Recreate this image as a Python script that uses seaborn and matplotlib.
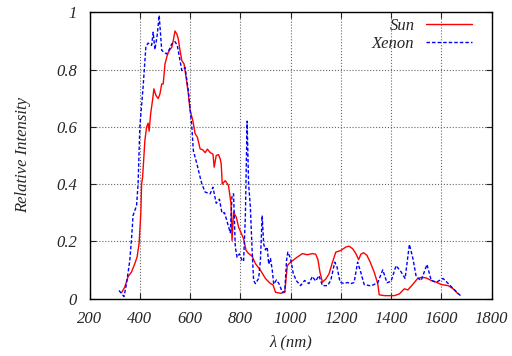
import numpy as np
import pandas as pd
import seaborn as sns
import matplotlib
matplotlib.use("Agg")
import matplotlib.pyplot as plt
from matplotlib.ticker import FuncFormatter

# spectre solaire
sun_nm = [327, 340, 353, 367, 380, 389, 397, 404, 407, 411, 420, 427, 433, 437, 443, 451, 456, 464,
          473, 480, 487, 493, 500, 509, 517, 527, 533, 540, 547, 553, 560, 567, 576, 584, 593, 600,
          611, 620, 629, 640, 650, 660, 669, 680, 691, 696, 704, 713, 720, 724, 728, 740, 753, 763,
          767, 773, 784, 793, 813, 823, 833, 847, 860, 880, 900, 920, 930, 940, 960, 977, 987, 1000,
          1027, 1047, 1067, 1087, 1100, 1109, 1117, 1127, 1140, 1153, 1167, 1180, 1200, 1220, 1233,
          1247, 1260, 1271, 1280, 1291, 1304, 1317, 1333, 1347, 1353, 1373, 1413, 1433, 1453, 1467,
          1487, 1504, 1520, 1540, 1560, 1580, 1600, 1627, 1647, 1667]
sun_int = [0.02, 0.04, 0.076, 0.093, 0.122, 0.145, 0.192, 0.30, 0.40, 0.424, 0.552, 0.60, 0.613,
           0.585, 0.646, 0.696, 0.733, 0.71, 0.699, 0.715, 0.75, 0.75, 0.82, 0.85, 0.867, 0.878,
           0.902, 0.935, 0.925, 0.908, 0.867, 0.832, 0.82, 0.774, 0.716, 0.658, 0.622, 0.576, 0.564,
           0.523, 0.52, 0.51, 0.522, 0.51, 0.505, 0.459, 0.50, 0.503, 0.488, 0.47, 0.40, 0.412,
           0.395, 0.331, 0.203, 0.302, 0.284, 0.25, 0.209, 0.168, 0.157, 0.148, 0.122, 0.099, 0.07,
           0.052, 0.048, 0.022, 0.018, 0.022, 0.115, 0.127, 0.145, 0.157, 0.153, 0.157, 0.155,
           0.136, 0.092, 0.057, 0.068, 0.086, 0.127, 0.162, 0.168, 0.18, 0.183, 0.174, 0.157, 0.136,
           0.155, 0.16, 0.151, 0.127, 0.092, 0.052, 0.013, 0.01, 0.01, 0.016, 0.034, 0.03, 0.05,
           0.068, 0.074, 0.072, 0.063, 0.057, 0.049, 0.045, 0.034, 0.016]

# lampe xenon
xe_nm = [317, 337, 347, 360, 367, 373, 387, 393, 400, 413, 424, 433, 447, 453, 460, 469, 477, 487,
         497, 507, 517, 527, 540, 549, 560, 567, 580, 593, 607, 613, 627, 640, 647, 660, 680, 691,
         704, 717, 727, 737, 747, 760, 767, 773, 780, 787, 796, 807, 813, 820, 827, 833, 840, 847,
         853, 860, 873, 880, 887, 893, 900, 907, 913, 920, 927, 933, 944, 955, 967, 977, 984, 989,
         1000, 1011, 1025, 1040, 1056, 1073, 1087, 1100, 1113, 1127, 1147, 1160, 1176, 1185, 1197,
         1213, 1227, 1240, 1253, 1267, 1280, 1293, 1320, 1347, 1367, 1384, 1400, 1420, 1440, 1456,
         1473, 1487, 1500, 1520, 1543, 1560, 1580, 1607, 1627, 1647, 1680]
xe_int = [0.028, 0.007, 0.052, 0.133, 0.21, 0.29, 0.325, 0.40, 0.60, 0.74, 0.88, 0.893, 0.885,
          0.931, 0.87, 0.92, 0.99, 0.868, 0.86, 0.855, 0.87, 0.89, 0.898, 0.885, 0.832, 0.797,
          0.808, 0.727, 0.60, 0.517, 0.471, 0.424, 0.40, 0.372, 0.366, 0.389, 0.333, 0.347, 0.298,
          0.30, 0.27, 0.23, 0.36, 0.366, 0.18, 0.144, 0.156, 0.133, 0.13, 0.284, 0.62, 0.40, 0.32,
          0.168, 0.063, 0.052, 0.07, 0.133, 0.29, 0.19, 0.17, 0.18, 0.12, 0.14, 0.10, 0.05, 0.065,
          0.05, 0.022, 0.025, 0.133, 0.162, 0.14, 0.086, 0.06, 0.045, 0.063, 0.052, 0.077, 0.061,
          0.08, 0.045, 0.045, 0.063, 0.127, 0.11, 0.057, 0.052, 0.056, 0.052, 0.056, 0.127, 0.09,
          0.049, 0.044, 0.055, 0.10, 0.055, 0.06, 0.115, 0.093, 0.07, 0.189, 0.14, 0.077, 0.063,
          0.119, 0.063, 0.057, 0.07, 0.053, 0.035, 0.007]

dfSun = pd.DataFrame({'lambda': sun_nm, 'I': sun_int})
dfXe = pd.DataFrame({'lambda': xe_nm, 'I': xe_int})

sns.set_style("ticks")
plt.rcParams['font.family'] = ['Liberation Serif', 'DejaVu Serif']
plt.rcParams['font.style'] = 'italic'

fig = plt.figure(figsize=(5.12, 3.56), dpi=100)
ax = fig.add_axes([0.175, 0.1615, 0.785, 0.8035])

sns.lineplot(data=dfSun, x='lambda', y='I', ax=ax, color='#ff0000', lw=1.0, label='Sun')
sns.lineplot(data=dfXe, x='lambda', y='I', ax=ax, color='#0000ff', lw=1.0,
             linestyle=(0, (2.5, 1.5)), label='Xenon')

ax.set_xlim(200, 1800)
ax.set_ylim(0, 1)
ax.set_xticks(np.arange(200, 1801, 200))
ax.set_yticks(np.arange(0, 1.01, 0.2))
ax.yaxis.set_major_formatter(FuncFormatter(lambda v, p: '{:g}'.format(round(v, 2))))
ax.grid(True, color='#666666', linestyle=':', linewidth=0.8)
ax.tick_params(direction='in', top=True, right=True, labelsize=12, length=4, pad=9)
for s in ax.spines.values():
    s.set_linewidth(1.0)
    s.set_color('black')

ax.set_xlabel('λ (nm)', fontsize=12, labelpad=5)
ax.set_ylabel('Relative Intensity', fontsize=12, labelpad=18)

leg = ax.legend(loc='upper right', bbox_to_anchor=(0.968, 1.005), frameon=False,
                markerfirst=False, fontsize=12, handlelength=2.75, handletextpad=0.7,
                borderaxespad=0.0, labelspacing=0.15)
for t in leg.get_texts():
    t.set_ha('right')

fig.savefig('out.png', dpi=100)
